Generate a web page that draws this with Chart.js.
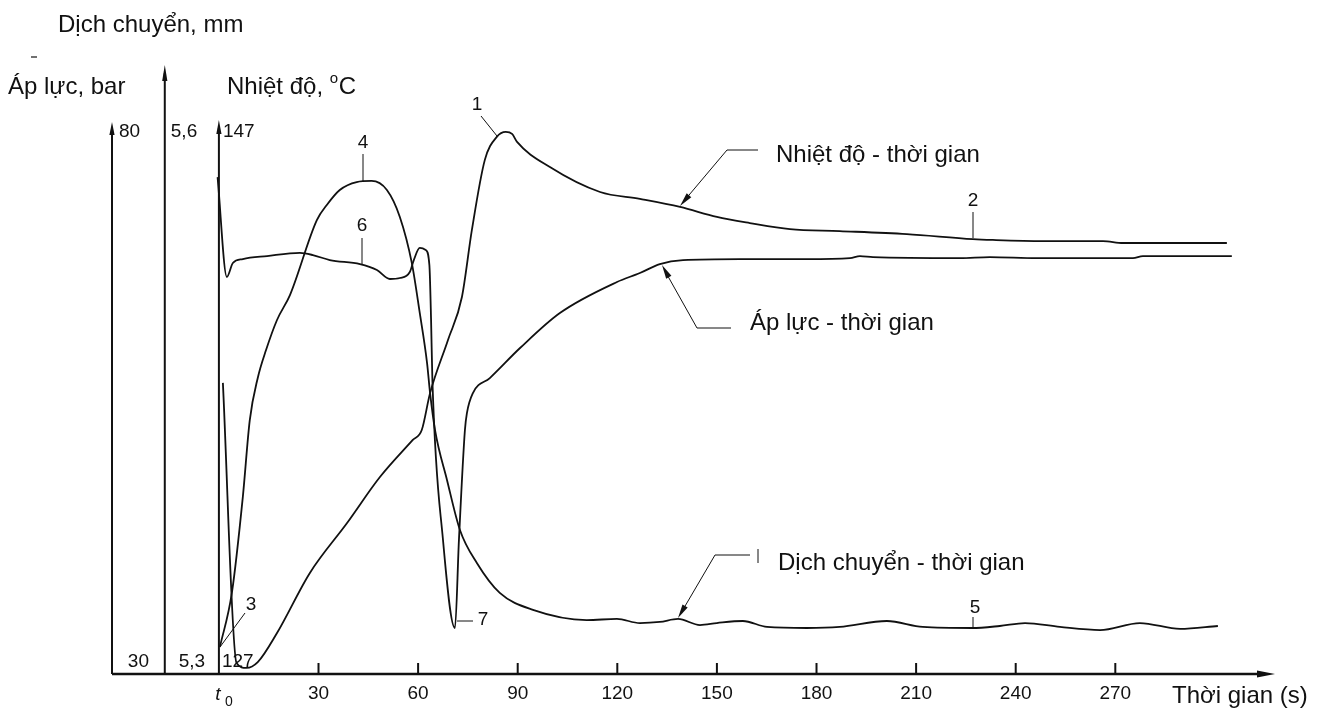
<!DOCTYPE html>
<html>
<head>
<meta charset="utf-8">
<script src="https://cdn.jsdelivr.net/npm/chart.js@4.4.1/dist/chart.umd.min.js"></script>
<style>
  html, body { margin: 0; padding: 0; background: #fff; }
  .chartContainer { width: 1327px; height: 715px; }
</style>
</head>
<body>
<div class="chartContainer"><canvas id="chart" width="1327" height="715"></canvas></div>
<script>
// time axis (s)
const timeTicks = [30, 60, 90, 120, 150, 180, 210, 240, 270];

// value ranges of the three vertical axes and their end labels
const pressureRange = [30, 80];
const pressureLabels = ['30', '80'];
const displacementRange = [5.3, 5.6];
const displacementLabels = ['5,3', '5,6'];
const temperatureRange = [127, 147];
const temperatureLabels = ['127', '147'];

// Nhiệt độ - thời gian (°C)
const tempTime = [1.2, 5.3, 8.3, 11.7, 17.5, 27.4, 38.6, 48.5, 58.4, 61.1, 63.6, 69.0, 73.2, 76.2,
  80.1, 83.7, 86.4, 88.3, 89.8, 99.7, 114.8, 126.8, 138.9, 150.0, 159.9, 172.0, 187.0, 207.2,
  227.1, 233.1, 248.2, 266.3, 272.3, 303.6];
const tempValues = [137.51, 127.40, 127.22, 127.43, 128.48, 130.65, 132.45, 134.11, 135.45, 135.81,
  137.14, 139.06, 140.61, 143.03, 145.56, 146.39, 146.57, 146.50, 146.21, 145.30, 144.40, 144.15,
  143.86, 143.50, 143.28, 143.06, 142.99, 142.88, 142.70, 142.67, 142.63, 142.63, 142.56, 142.56];

// Áp lực - thời gian (bar)
const pressTime = [-0.4, 2.4, 4.2, 7.2, 14.5, 24.4, 28.3, 33.4, 42.5, 47.6, 51.5, 54.5, 57.5, 58.7,
  60.5, 62.3, 63.4, 63.9, 64.3, 67.5, 71.1, 72.3, 74.1, 74.7, 76.5, 81.6, 90.7, 102.7, 119.9, 126.8,
  132.8, 139.8, 156.9, 177.1, 190.1, 193.1, 197.0, 223.2, 232.2, 246.4, 275.3, 278.3, 305.1];
const pressValues = [74.85, 65.83, 67.09, 67.45, 67.72, 68.00, 67.81, 67.36, 67.00, 66.46, 65.65,
  65.74, 66.28, 67.36, 68.45, 68.27, 66.90, 62.04, 56.53, 42.09, 34.15, 42.09, 52.02, 53.55, 55.36,
  56.71, 59.42, 62.58, 65.38, 66.19, 67.00, 67.36, 67.45, 67.45, 67.54, 67.72, 67.63, 67.54, 67.63,
  67.54, 67.54, 67.72, 67.72];

// Dịch chuyển - thời gian (mm)
const dispTime = [0.3, 3.9, 7.2, 9.3, 11.7, 14.2, 17.5, 21.4, 29.5, 32.5, 36.4, 41.5, 46.0, 50.6,
  54.5, 58.1, 60.5, 62.7, 63.6, 65.1, 68.7, 72.6, 77.7, 84.6, 94.6, 110.8, 119.9, 126.8, 132.8,
  138.3, 144.9, 150.0, 157.8, 165.1, 177.1, 187.0, 201.2, 212.0, 226.8, 235.2, 242.8, 253.3, 265.4,
  277.4, 289.5, 300.9];
const dispValues = [5.3146, 5.3439, 5.3958, 5.4375, 5.4603, 5.4754, 5.4917, 5.5052, 5.5458, 5.5540,
  5.5621, 5.5664, 5.5670, 5.5621, 5.5475, 5.5226, 5.4955, 5.4684, 5.4522, 5.4321, 5.4051, 5.3780,
  5.3601, 5.3439, 5.3347, 5.3292, 5.3298, 5.3276, 5.3282, 5.3298, 5.3265, 5.3276, 5.3287, 5.3255,
  5.3249, 5.3255, 5.3287, 5.3255, 5.3249, 5.3260, 5.3276, 5.3255, 5.3238, 5.3276, 5.3244, 5.3260];

const ink = '#111';
const textFont = '24px "Liberation Sans", Arial, sans-serif';
const numFont = '19px "Liberation Sans", Arial, sans-serif';

function toPoints(xs, ys) {
    return xs.map((t, i) => ({ x: t, y: ys[i] }));
}

function seg(ctx, x1, y1, x2, y2) {
    ctx.beginPath();
    ctx.moveTo(x1, y1);
    ctx.lineTo(x2, y2);
    ctx.stroke();
}

function arrowHead(ctx, fromX, fromY, toX, toY, len, half) {
    const a = Math.atan2(toY - fromY, toX - fromX);
    const bx = toX - len * Math.cos(a), by = toY - len * Math.sin(a);
    ctx.beginPath();
    ctx.moveTo(toX, toY);
    ctx.lineTo(bx + half * Math.sin(a), by - half * Math.cos(a));
    ctx.lineTo(bx - half * Math.sin(a), by + half * Math.cos(a));
    ctx.closePath();
    ctx.fill();
}

function text(ctx, str, x, y, font, align) {
    ctx.font = font;
    ctx.textAlign = align || 'left';
    ctx.textBaseline = 'middle';
    ctx.fillText(str, x, y);
}

const drawingPlugin = {
    id: 'drawing',
    afterDraw(chart) {
        const { ctx, chartArea, scales } = chart;
        const x = scales.x, yP = scales.yP, yD = scales.yD, yT = scales.yT;
        const base = chartArea.bottom;
        const axP = x.getPixelForValue(x.min);
        const axD = x.getPixelForValue(-16.3);
        const axT = x.getPixelForValue(0);

        ctx.save();
        ctx.strokeStyle = ink;
        ctx.fillStyle = ink;
        ctx.lineCap = 'butt';

        // time axis with arrow
        ctx.lineWidth = 2.6;
        seg(ctx, axP, base, x.right - 10, base);
        arrowHead(ctx, axP, base, x.right, base, 18, 3.5);
        ctx.lineWidth = 2;
        timeTicks.forEach(v => {
            const px = x.getPixelForValue(v);
            seg(ctx, px, base, px, base - 11);
            text(ctx, String(v), px, base + 20, numFont, 'center');
        });
        // t0
        text(ctx, 't', axT - 1, base + 21, 'italic ' + numFont, 'center');
        text(ctx, '0', axT + 10, base + 28, '14px "Liberation Sans", Arial, sans-serif', 'center');

        // three vertical axes
        const topP = yP.getPixelForValue(pressureRange[1]);
        const topT = yT.getPixelForValue(temperatureRange[1]);
        const topD = yD.getPixelForValue(displacementRange[1]) - 55;
        ctx.lineWidth = 2;
        seg(ctx, axP, base, axP, topP + 8);
        arrowHead(ctx, axP, base, axP, topP + 2, 13, 2.6);
        seg(ctx, axD, base, axD, topD + 8);
        arrowHead(ctx, axD, base, axD, topD, 16, 2.6);
        seg(ctx, axT, base, axT, topT + 8);
        arrowHead(ctx, axT, base, axT, topT, 14, 2.6);

        // axis end labels
        text(ctx, pressureLabels[1], axP + 7, yP.getPixelForValue(pressureRange[1]) + 12, numFont, 'left');
        text(ctx, pressureLabels[0], (axP + axD) / 2, yP.getPixelForValue(pressureRange[0]) - 12, numFont, 'center');
        text(ctx, displacementLabels[1], axD + 6, yD.getPixelForValue(displacementRange[1]) + 12, numFont, 'left');
        text(ctx, displacementLabels[0], (axD + axT) / 2, yD.getPixelForValue(displacementRange[0]) - 12, numFont, 'center');
        text(ctx, temperatureLabels[1], axT + 4, yT.getPixelForValue(temperatureRange[1]) + 12, numFont, 'left');
        text(ctx, temperatureLabels[0], axT + 3, yT.getPixelForValue(temperatureRange[0]) - 12, numFont, 'left');

        // axis titles
        text(ctx, 'Dịch chuyển, mm', 58, 25, textFont);
        text(ctx, 'Áp lực, bar', 8, 87, textFont);
        ctx.font = textFont;
        const nt = 'Nhiệt độ, ';
        text(ctx, nt, 227, 87, textFont);
        const ntw = ctx.measureText(nt).width;
        text(ctx, 'o', 227 + ntw, 79, '15px "Liberation Sans", Arial, sans-serif');
        text(ctx, 'C', 227 + ntw + 9, 87, textFont);
        ctx.lineWidth = 1.2;
        seg(ctx, 31, 57, 37, 57);

        // curve captions with leader arrows
        ctx.lineWidth = 1;
        seg(ctx, 727, 150, 758, 150);
        seg(ctx, 727, 150, 684, 201);
        arrowHead(ctx, 727, 150, 680, 206, 14, 3);
        text(ctx, 'Nhiệt độ - thời gian', 776, 155, textFont);

        seg(ctx, 697, 328, 731, 328);
        seg(ctx, 697, 328, 665, 271);
        arrowHead(ctx, 697, 328, 662, 265, 14, 3);
        text(ctx, 'Áp lực - thời gian', 750, 323, textFont);

        seg(ctx, 715, 555, 750, 555);
        seg(ctx, 758, 549, 758, 563);
        seg(ctx, 715, 555, 681, 613);
        arrowHead(ctx, 715, 555, 678, 618, 14, 3);
        text(ctx, 'Dịch chuyển - thời gian', 778, 563, textFont);

        text(ctx, 'Thời gian (s)', 1172, 696, textFont);

        // numbered points
        const marks = [
            ['1', 477, 105, 481, 116, 497, 136],
            ['2', 973, 201, 973, 212, 973, 238],
            ['3', 251, 605, 245, 613, 220, 647],
            ['4', 363, 143, 363, 154, 363, 182],
            ['5', 975, 608, 973, 617, 973, 628],
            ['6', 362, 226, 362, 238, 362, 264],
            ['7', 483, 620, 473, 621, 457, 621]
        ];
        marks.forEach(m => {
            text(ctx, m[0], m[1], m[2], numFont, 'center');
            seg(ctx, m[3], m[4], m[5], m[6]);
        });
        ctx.restore();
    }
};

const lineStyle = {
    borderColor: ink,
    borderWidth: 1.8,
    pointRadius: 0,
    fill: false,
    cubicInterpolationMode: 'monotone',
    clip: false
};

new Chart(document.getElementById('chart').getContext('2d'), {
    type: 'line',
    data: {
        datasets: [
            Object.assign({ label: 'Nhiệt độ - thời gian', data: toPoints(tempTime, tempValues), yAxisID: 'yT' }, lineStyle),
            Object.assign({ label: 'Áp lực - thời gian', data: toPoints(pressTime, pressValues), yAxisID: 'yP' }, lineStyle),
            Object.assign({ label: 'Dịch chuyển - thời gian', data: toPoints(dispTime, dispValues), yAxisID: 'yD' }, lineStyle)
        ]
    },
    options: {
        responsive: false,
        animation: false,
        devicePixelRatio: 1,
        layout: { padding: { left: 112, right: 52, top: 120, bottom: 41 } },
        plugins: { legend: { display: false }, tooltip: { enabled: false } },
        scales: {
            x: { type: 'linear', min: -32.2, max: 318.1, display: false },
            yP: { type: 'linear', min: pressureRange[0], max: pressureRange[1], display: false },
            yD: { type: 'linear', min: displacementRange[0], max: displacementRange[1], display: false },
            yT: { type: 'linear', min: temperatureRange[0], max: temperatureRange[1], display: false }
        }
    },
    plugins: [drawingPlugin]
});
</script>
</body>
</html>
